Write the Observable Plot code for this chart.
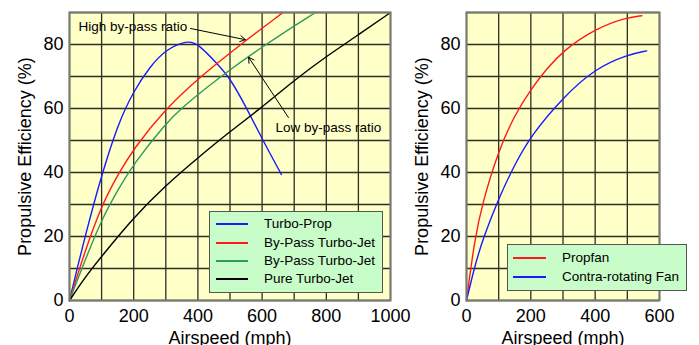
<!DOCTYPE html>
<html><head><meta charset="utf-8">
<script src="https://cdn.jsdelivr.net/npm/d3@7"></script>
<script src="https://cdn.jsdelivr.net/npm/@observablehq/plot@0.6"></script>
<style>
body{margin:0;background:#fff;font-family:"Liberation Sans",Arial,sans-serif;}
#wrap{position:relative;width:699px;height:345px;overflow:hidden;}
.p{position:absolute;top:0;}
.legend{position:absolute;background:#c8fcc8;border:1.5px solid #555;box-sizing:border-box;font-size:13.5px;color:#000;}
.row{position:absolute;left:0;right:0;height:18px;}
.sw{position:absolute;top:8px;height:0;border-top:2px solid;}
.tx{position:absolute;top:0;line-height:18px;white-space:nowrap;}
</style></head>
<body>
<div id="wrap"></div>
<script>
// ---- data ----
const turboPropX = [0, 25, 50, 75, 100, 150, 200, 250, 300, 367, 400, 460, 500, 550, 600, 660];
const turboPropY = [0, 10.5, 20.5, 30, 39, 55, 65.5, 73, 78.5, 81.3, 80.3, 74, 69.5, 60.5, 50.5, 39.4];
const highBypassX = [0, 50, 100, 150, 200, 300, 408, 533, 665];
const highBypassY = [0, 16, 29.7, 39.2, 47.5, 60, 70, 80, 90];
const lowBypassX = [0, 50, 100, 150, 200, 300, 346, 470, 610, 766];
const lowBypassY = [0, 13, 25.3, 34.5, 42.8, 55.3, 60, 70, 80, 90];
const pureJetX = [0, 50, 100, 200, 300, 400, 500, 595, 700, 800, 900, 1000];
const pureJetY = [0, 7.5, 13.8, 26, 36, 44.6, 52.8, 60, 68.8, 76.3, 83, 90];

const propfanX = [0, 25, 50, 100, 150, 200, 250, 300, 400, 500, 545];
const propfanY = [0, 19, 30.7, 47, 58, 66, 72.5, 78, 85, 88.5, 89];
const contraX = [0, 25, 50, 100, 150, 200, 300, 400, 500, 560];
const contraY = [0, 10.5, 19, 32, 42.5, 51.5, 63.5, 72.5, 76.8, 78];

const leftNames = ["Turbo-Prop", "By-Pass Turbo-Jet", "By-Pass Turbo-Jet", "Pure Turbo-Jet"];
const leftColors = ["#1a1aff", "#ff1a1a", "#2e9a5c", "#000000"];
const rightNames = ["Propfan", "Contra-rotating Fan"];
const rightColors = ["#ff1a1a", "#1a1aff"];

const leftXTicks = [0, 200, 400, 600, 800, 1000];
const rightXTicks = [0, 200, 400, 600];
const yTicks = [0, 20, 40, 60, 80];
const leftXGrid = [0, 100, 200, 300, 400, 500, 600, 700, 800, 900, 1000];
const rightXGrid = [0, 100, 200, 300, 400, 500, 600];
const yGrid = [0, 10, 20, 30, 40, 50, 60, 70, 80, 90];

const annotations = [
  {text: "High by-pass ratio", x: 28, y: 85.6, ax1: 377, ay1: 85, ax2: 548, ay2: 81.5},
  {text: "Low by-pass ratio", x: 642, y: 54, ax1: 682, ay1: 57.2, ax2: 558, ay2: 76}
];

const zip = (xs, ys) => xs.map((x, i) => ({x, y: ys[i]}));
const leftSeries = [zip(turboPropX, turboPropY), zip(highBypassX, highBypassY), zip(lowBypassX, lowBypassY), zip(pureJetX, pureJetY)];
const rightSeries = [zip(propfanX, propfanY), zip(contraX, contraY)];

const font = '"Liberation Sans", Arial, sans-serif';
const gridStroke = "#2e2e26";

function panel({width, marginLeft, marginRight, xDomain, xTicks, xGrid, series, colors, extra}) {
  return Plot.plot({
    width, height: 345,
    marginLeft, marginRight, marginTop: 12, marginBottom: 45,
    style: {fontFamily: font, fontSize: "18px", background: "transparent", overflow: "visible", color: "#000"},
    x: {domain: xDomain, ticks: xTicks, tickFormat: d => String(d), tickSize: 0, tickPadding: 9, label: "Airspeed (mph)", labelArrow: "none", labelAnchor: "center", labelOffset: 43},
    y: {domain: [0, 90], ticks: yTicks, tickFormat: d => String(d), tickSize: 0, tickPadding: 6, label: "Propulsive Efficiency (%)", labelArrow: "none", labelAnchor: "center", labelOffset: 51},
    marks: [
      Plot.frame({fill: "#ffffc8", stroke: null}),
      Plot.ruleX(xGrid, {stroke: gridStroke, strokeWidth: 1.3}),
      Plot.ruleY(yGrid, {stroke: gridStroke, strokeWidth: 1.3}),
      ...series.map((s, i) => Plot.line(s, {x: "x", y: "y", stroke: colors[i], strokeWidth: 1.4, curve: "basis"})),
      ...(extra || []),
      Plot.frame({stroke: "#7a7a70", strokeWidth: 2})
    ]
  });
}

const left = panel({
  width: 420, marginLeft: 69, marginRight: 30,
  xDomain: [0, 1000], xTicks: leftXTicks, xGrid: leftXGrid,
  series: leftSeries, colors: leftColors,
  extra: [
    Plot.text(annotations, {x: "x", y: "y", text: "text", textAnchor: "start", fontSize: 13.5, fill: "#000"}),
    Plot.arrow(annotations, {x1: "ax1", y1: "ay1", x2: "ax2", y2: "ay2", stroke: "#000", strokeWidth: 1, headLength: 9})
  ]
});
const right = panel({
  width: 299, marginLeft: 66, marginRight: 40,
  xDomain: [0, 600], xTicks: rightXTicks, xGrid: rightXGrid,
  series: rightSeries, colors: rightColors
});

const wrap = document.getElementById("wrap");
left.classList.add("p"); left.style.left = "0px";
right.classList.add("p"); right.style.left = "400px";
wrap.appendChild(left);
wrap.appendChild(right);

function legend(names, colors, box, rowTops) {
  const d = document.createElement("div");
  d.className = "legend";
  Object.assign(d.style, {left: box.left + "px", top: box.top + "px", width: box.w + "px", height: box.h + "px"});
  names.forEach((n, i) => {
    const r = document.createElement("div");
    r.className = "row"; r.style.top = rowTops[i] + "px";
    const s = document.createElement("div");
    s.className = "sw"; s.style.left = box.sx1 + "px"; s.style.width = (box.sx2 - box.sx1) + "px"; s.style.borderTopColor = colors[i];
    const t = document.createElement("div");
    t.className = "tx"; t.style.left = box.tx + "px"; t.textContent = n;
    r.appendChild(s); r.appendChild(t); d.appendChild(r);
  });
  wrap.appendChild(d);
}
legend(leftNames, leftColors, {left: 209, top: 211, w: 174, h: 82, sx1: 6, sx2: 38, tx: 54}, [3, 22, 40, 58]);
legend(rightNames, rightColors, {left: 507, top: 244, w: 180, h: 47, sx1: 5, sx2: 38, tx: 54}, [4, 23]);
</script>
</body></html>
